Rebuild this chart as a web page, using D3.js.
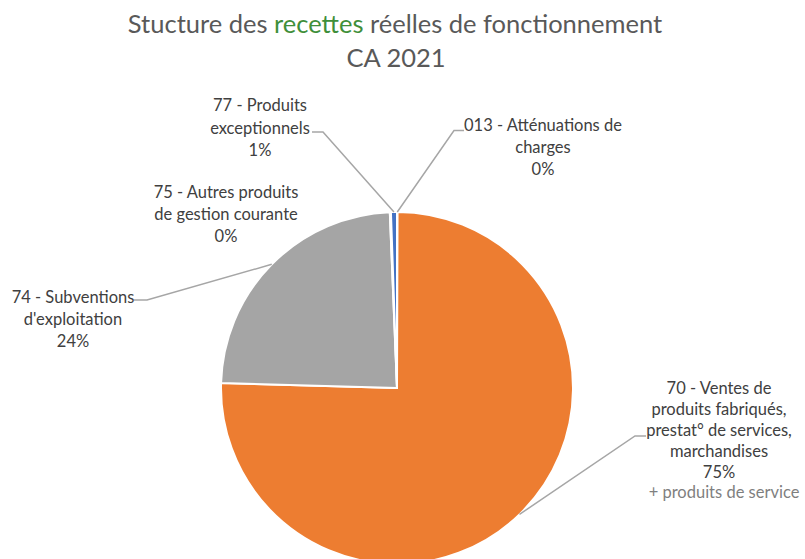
<!DOCTYPE html>
<html>
<head>
<meta charset="utf-8">
<script src="https://cdn.jsdelivr.net/npm/d3@7"></script>
<style>
  html, body { margin: 0; padding: 0; background: #fff; }
  svg { display: block; font-family: Lato, "Open Sans", sans-serif; }
</style>
</head>
<body>
<svg id="chart" width="805" height="559"></svg>
<script>
// Budget chapters (order in which slices run clockwise from 12 o'clock)
const categories = [
  "013 - Atténuations de charges",
  "70 - Ventes de produits fabriqués, prestat° de services, marchandises",
  "74 - Subventions d'exploitation",
  "75 - Autres produits de gestion courante",
  "77 - Produits exceptionnels"
];
// Share of real operating revenue, in percent
const shares = [0.05, 75.4, 23.9, 0.1, 0.55];
const percentLabels = ["0%", "75%", "24%", "0%", "1%"];
const colors = ["#5B9BD5", "#ED7D31", "#A5A5A5", "#FFC000", "#4472C4"];

// Label text broken into lines as they appear next to each slice
const labelLines = [
  ["013 - Atténuations de", "charges"],
  ["70 - Ventes de", "produits fabriqués,", "prestat° de services,", "marchandises"],
  ["74 - Subventions", "d'exploitation"],
  ["75 - Autres produits", "de gestion courante"],
  ["77 - Produits", "exceptionnels"]
];

const svg = d3.select("#chart");
const cx = 397, cy = 388, r = 176;

// Title
const title = svg.append("text")
  .attr("x", 395).attr("y", 33)
  .attr("text-anchor", "middle")
  .attr("font-size", 25.5)
  .attr("fill", "#595959");
title.append("tspan").text("Stucture des ");
title.append("tspan").attr("fill", "#3F8F3A").text("recettes");
title.append("tspan").text(" réelles de fonctionnement");
svg.append("text")
  .attr("x", 396).attr("y", 67)
  .attr("text-anchor", "middle")
  .attr("font-size", 25.5)
  .attr("fill", "#595959")
  .text("CA 2021");

// Pie
const data = categories.map((c, i) => ({ name: c, value: shares[i], i }));
const pie = d3.pie().value(d => d.value).sort(null);
const arc = d3.arc().innerRadius(0).outerRadius(r);
const arcs = pie(data);

const g = svg.append("g").attr("transform", `translate(${cx},${cy})`);
g.selectAll("path")
  .data(arcs)
  .join("path")
  .attr("d", arc)
  .attr("fill", d => colors[d.data.i])
  .attr("stroke", "#fff")
  .attr("stroke-width", 2)
  .attr("stroke-linejoin", "round");

// Data labels placed beside the pie: name lines followed by the percentage
const labelPos = [
  { x: 543, y: 131, spacing: 22 },
  { x: 719, y: 394, spacing: 21 },
  { x: 73, y: 303, spacing: 22 },
  { x: 226, y: 198, spacing: 22 },
  { x: 260, y: 111, spacing: 22.5 }
];

const labels = svg.append("g")
  .attr("font-size", 16.5)
  .attr("fill", "#404040")
  .attr("text-anchor", "middle");

labelLines.forEach((lines, i) => {
  const p = labelPos[i];
  const t = labels.append("text").attr("x", p.x).attr("y", p.y);
  lines.concat([percentLabels[i]]).forEach((ln, k) => {
    t.append("tspan").attr("x", p.x).attr("dy", k === 0 ? 0 : p.spacing).text(ln);
  });
});

svg.append("text")
  .attr("x", 724).attr("y", 498)
  .attr("text-anchor", "middle")
  .attr("font-size", 16.5)
  .attr("fill", "#7F7F7F")
  .text("+ produits de service");

// Leader lines: short horizontal stub next to the label, then a straight
// segment to the slice edge at its mid-angle
const edgePoint = a => {
  const ang = (a.startAngle + a.endAngle) / 2;
  return [cx + r * Math.sin(ang), cy - r * Math.cos(ang)];
};
const leaders = [
  { i: 0, stub: [[464, 130.5], [454, 130.5]] },
  { i: 1, stub: [[646, 436], [635, 436]] },
  { i: 2, stub: [[134, 300], [147, 300]] },
  { i: 4, stub: [[312, 132], [323, 132]] }
];
const line = d3.line();
leaders.forEach(l => {
  svg.append("path")
    .attr("d", line([...l.stub, edgePoint(arcs[l.i])]))
    .attr("fill", "none")
    .attr("stroke", "#A6A6A6")
    .attr("stroke-width", 1.5);
});
</script>
</body>
</html>
